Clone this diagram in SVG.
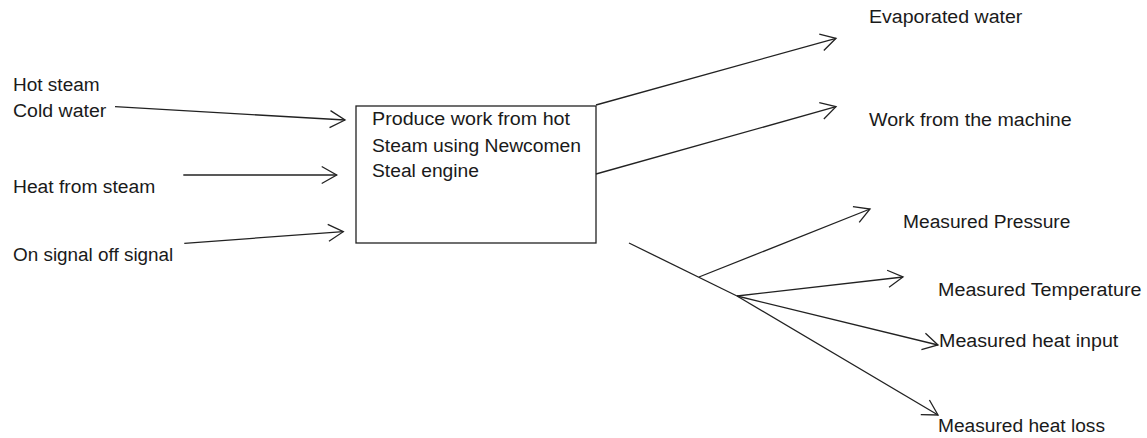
<svg xmlns="http://www.w3.org/2000/svg" width="1147" height="438" viewBox="0 0 1147 438">
<defs>
<style>
text{font-family:"Liberation Sans",Arial,sans-serif;font-size:18px;fill:#1a1a1a}
.c{stroke:#222;stroke-width:1.3;fill:none}
.box{fill:#fff;stroke:#222;stroke-width:1.3}
</style>
<marker id="ah" markerUnits="userSpaceOnUse" markerWidth="20" markerHeight="20" viewBox="-17 -10 20 20" refX="0" refY="0" orient="auto">
<path d="M-15,-8.5 L0,0 L-15,8.5" fill="none" stroke="#222" stroke-width="1.3"/>
</marker>
</defs>
<rect width="1147" height="438" fill="#fff"/>
<g id="inputs">
<text x="13" y="91" textLength="86.6" lengthAdjust="spacingAndGlyphs">Hot steam</text>
<text x="13" y="117" textLength="93.3" lengthAdjust="spacingAndGlyphs">Cold water</text>
<text x="13" y="193" textLength="142.3" lengthAdjust="spacingAndGlyphs">Heat from steam</text>
<text x="13" y="261" textLength="160.3" lengthAdjust="spacingAndGlyphs">On signal off signal</text>
</g>
<g id="process">
<rect class="box" x="356" y="106" width="240" height="137"/>
<text x="372" y="125" textLength="198" lengthAdjust="spacingAndGlyphs">Produce work from hot</text>
<text x="372" y="152" textLength="209" lengthAdjust="spacingAndGlyphs">Steam using Newcomen</text>
<text x="372" y="177" textLength="107" lengthAdjust="spacingAndGlyphs">Steal engine</text>
</g>
<g id="outputs">
<text x="869" y="23" textLength="153.4" lengthAdjust="spacingAndGlyphs">Evaporated water</text>
<text x="869" y="126" textLength="202.7" lengthAdjust="spacingAndGlyphs">Work from the machine</text>
<text x="903" y="228" textLength="167.4" lengthAdjust="spacingAndGlyphs">Measured Pressure</text>
<text x="938" y="296" textLength="203.4" lengthAdjust="spacingAndGlyphs">Measured Temperature</text>
<text x="939" y="347" textLength="179.3" lengthAdjust="spacingAndGlyphs">Measured heat input</text>
<text x="938" y="432" textLength="167" lengthAdjust="spacingAndGlyphs">Measured heat loss</text>
</g>
<g id="connectors">
<line class="c" x1="115" y1="106.7" x2="345" y2="120" marker-end="url(#ah)"/>
<line class="c" x1="183.3" y1="175" x2="336.7" y2="175" marker-end="url(#ah)"/>
<line class="c" x1="184.3" y1="243.3" x2="343.3" y2="231.7" marker-end="url(#ah)"/>
<line class="c" x1="596" y1="105" x2="836" y2="38.3" marker-end="url(#ah)"/>
<line class="c" x1="596" y1="174" x2="836" y2="106.7" marker-end="url(#ah)"/>
<line class="c" x1="629" y1="243" x2="737" y2="296"/>
<line class="c" x1="699" y1="277" x2="870" y2="209" marker-end="url(#ah)"/>
<line class="c" x1="737" y1="296" x2="903" y2="277" marker-end="url(#ah)"/>
<line class="c" x1="737" y1="296" x2="938" y2="345" marker-end="url(#ah)"/>
<line class="c" x1="737" y1="296" x2="938" y2="415" marker-end="url(#ah)"/>
</g>
</svg>
